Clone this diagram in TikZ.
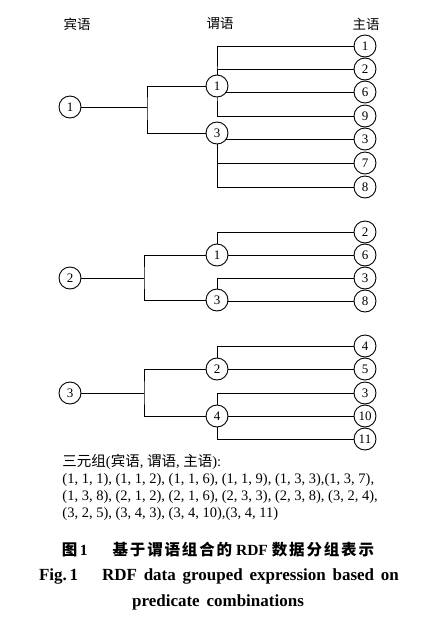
\documentclass[tikz,border=0pt]{standalone}
\usepackage{fontspec}
\setmainfont{Liberation Serif}
\newfontfamily\cjk{Noto Sans CJK SC}
\newfontfamily\cjkcap{Noto Sans CJK SC}[LetterSpace=12]
\usetikzlibrary{backgrounds}
\tikzset{
  ent/.style={circle, draw, fill=white, inner sep=0pt, minimum size=22pt, font=\fontsize{13}{13}\selectfont},
  head/.style={font=\cjk\fontsize{13.5}{13.5}\selectfont}
}
\begin{document}
\begin{tikzpicture}[x=1pt, y=-1pt, line width=0.9pt]
\useasboundingbox (0,0) rectangle (433,619);
% column heads
\node[head] (hobj) at (77,24) {宾语};
\node[head] (hpred) at (220,24) {谓语};
\node[head] (hsubj) at (366,24) {主语};
% group 1
\node[ent] (o1) at (70,107) {1};
\node[ent] (p11) at (217,86) {1};
\node[ent] (p12) at (217,133) {3};
\node[ent] (s11) at (365,46) {1};
\node[ent] (s12) at (365,69) {2};
\node[ent] (s13) at (365,92) {6};
\node[ent] (s14) at (365,116) {9};
\node[ent] (s15) at (365,139) {3};
\node[ent] (s16) at (365,163) {7};
\node[ent] (s17) at (365,187) {8};
\coordinate (b1) at (147,107);
% group 2
\node[ent] (o2) at (70,278) {2};
\node[ent] (p21) at (217,255) {1};
\node[ent] (p22) at (217,300) {3};
\node[ent] (s21) at (365,232) {2};
\node[ent] (s22) at (365,255) {6};
\node[ent] (s23) at (365,278) {3};
\node[ent] (s24) at (365,301) {8};
\coordinate (b2) at (144,278);
% group 3
\node[ent] (o3) at (70,393) {3};
\node[ent] (p31) at (217,369) {2};
\node[ent] (p32) at (217,416) {4};
\node[ent] (s31) at (365,346) {4};
\node[ent] (s32) at (365,369) {5};
\node[ent] (s33) at (365,393) {3};
\node[ent] (s34) at (365,416) {10};
\node[ent] (s35) at (365,439) {11};
\coordinate (b3) at (144,393);
\begin{scope}[on background layer]
\draw (o1) -- (b1);
\draw (p11) -| (b1) |- (p12);
\draw (s11) -| (p11.center) |- (s14);
\draw (p11.center) |- (s12);
\draw (p11.center) |- (s13);
\draw (p12.center) |- (s15);
\draw (p12.center) |- (s17);
\draw (p12.center) |- (s16);
\draw (o2) -- (b2);
\draw (p21) -| (b2) |- (p22);
\draw (p21.center) |- (s21);
\draw (p21) -- (s22);
\draw (p22.center) |- (s23);
\draw (p22.center) |- (s24);
\draw (o3) -- (b3);
\draw (p31) -| (b3) |- (p32);
\draw (p31.center) |- (s31);
\draw (p31) -- (s32);
\draw (p32.center) |- (s33);
\draw (p32.center) |- (s34);
\draw (p32.center) |- (s35);
\end{scope}
% triples
\node[anchor=north west, align=left, inner sep=0pt, font=\fontsize{14.5}{17}\selectfont] (trip) at (62,454)
{{\cjk 三元组}({\cjk 宾语}, {\cjk 谓语}, {\cjk 主语}):\\
(1, 1, 1), (1, 1, 2), (1, 1, 6), (1, 1, 9), (1, 3, 3),(1, 3, 7),\\
(1, 3, 8), (2, 1, 2), (2, 1, 6), (2, 3, 3), (2, 3, 8), (3, 2, 4),\\
(3, 2, 5), (3, 4, 3), (3, 4, 10),(3, 4, 11)};
% caption
\node[font=\fontsize{15.5}{15.5}\selectfont\bfseries] (capcn) at (218,550)
{{\cjkcap 图}\,1\hspace{1.6em}{\cjkcap 基于谓语组合的}\ RDF\ {\cjkcap 数据分组表示}};
\node[font=\fontsize{17}{17}\selectfont\bfseries] (capen1) at (219,576)
{Fig.\,1\hspace{1.4em}RDF\hspace{0.4em}data\hspace{0.4em}grouped\hspace{0.4em}expression\hspace{0.4em}based\hspace{0.4em}on};
\node[font=\fontsize{17}{17}\selectfont\bfseries] (capen2) at (218,602)
{predicate\hspace{0.4em}combinations};
\end{tikzpicture}
\end{document}
